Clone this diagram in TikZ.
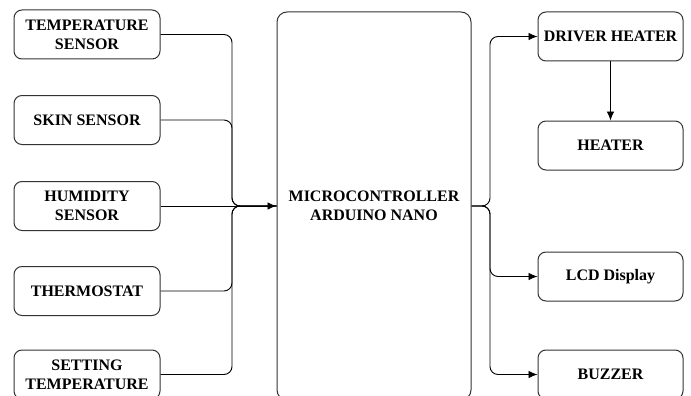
\documentclass[tikz,border=0pt]{standalone}
\usepackage{fontspec}
\setmainfont{Liberation Serif}
\usetikzlibrary{arrows.meta}
\tikzset{
  blk/.style={draw=black!80,line width=1pt,rounded corners=8pt,fill=white,
    minimum width=146pt,minimum height=49pt,inner sep=0pt,align=center,
    font=\fontsize{16}{19}\selectfont\bfseries},
  mcu/.style={blk,rounded corners=10pt,minimum width=194pt,minimum height=388pt},
  wire/.style={draw=black,line width=0.9pt,rounded corners=8pt},
  tip/.style={-{Latex[length=9pt,width=7.5pt]}},
}
\begin{document}
\begin{tikzpicture}[x=1pt,y=-1pt]
  \useasboundingbox (0,0) rectangle (691,396);
  \clip (0,0) rectangle (691,396);
  % inputs
  \node[blk] (temp) at (87,34.5) {TEMPERATURE\\SENSOR};
  \node[blk] (skin) at (87,120) {SKIN SENSOR};
  \node[blk] (hum) at (87,206) {HUMIDITY\\SENSOR};
  \node[blk] (thermo) at (87,291) {THERMOSTAT};
  \node[blk] (sett) at (87,374.5) {SETTING\\TEMPERATURE};
  % controller
  \node[mcu] (mcu) at (374,206) {MICROCONTROLLER\\ARDUINO NANO};
  % outputs
  \node[blk,minimum width=145pt] (drv) at (610.5,36.5) {DRIVER HEATER};
  \node[blk,minimum width=145pt] (heat) at (610.5,145.5) {HEATER};
  \node[blk,minimum width=145pt] (lcd) at (610.5,276.5) {LCD Display};
  \node[blk,minimum width=145pt] (buz) at (610.5,374.5) {BUZZER};
  \coordinate (jin) at (232,206);
  \coordinate (jout) at (490,206);
  \foreach \s in {temp,skin,thermo,sett}
    \draw[wire] (\s.east) -| (jin) -- (mcu.west);
  \draw[wire,tip] (hum.east) -- (mcu.west);
  \foreach \t in {drv,lcd,buz}
    \draw[wire,tip] (mcu.east) -- (jout) |- (\t.west);
  \draw[wire,tip] (drv) -- (heat);
\end{tikzpicture}
\end{document}
